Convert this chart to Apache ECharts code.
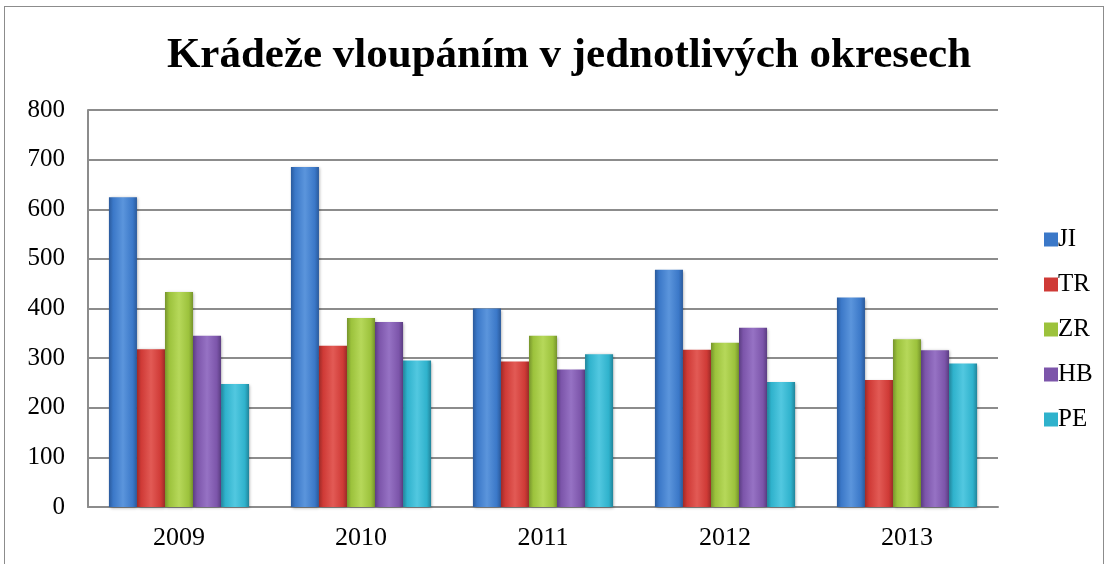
<!DOCTYPE html>
<html>
<head>
<meta charset="utf-8">
<script src="https://cdn.jsdelivr.net/npm/echarts@6/dist/echarts.min.js"></script>
<style>
  html, body { margin: 0; padding: 0; background: #fff; }
  #frame {
    position: absolute; left: 4px; top: 6px; width: 1100px; height: 570px;
    border: 1px solid #8c8c8c; box-sizing: border-box;
  }
  #chart { position: absolute; left: 0; top: 0; width: 1108px; height: 564px; }
</style>
</head>
<body>
<div id="frame"></div>
<div id="chart"></div>
<script>
const years = ["2009", "2010", "2011", "2012", "2013"];
const districts = ["JI", "TR", "ZR", "HB", "PE"];
const valuesJI = [624, 685, 400, 478, 422];
const valuesTR = [318, 325, 293, 317, 256];
const valuesZR = [433, 381, 345, 331, 338];
const valuesHB = [345, 373, 277, 361, 316];
const valuesPE = [248, 295, 308, 252, 289];
const yTicks = [0, 100, 200, 300, 400, 500, 600, 700, 800];

const seriesValues = [valuesJI, valuesTR, valuesZR, valuesHB, valuesPE];
// base, light, dark per district
const palette = [
  ["#3b78c8", "#5b95dc", "#2a5a9c"],
  ["#cf3a36", "#e25a55", "#9e2a27"],
  ["#9cc23c", "#b6d85a", "#76942c"],
  ["#7c55aa", "#9672c4", "#5b3d82"],
  ["#2fb2cc", "#52c8e0", "#21849a"],
];

function bevel(c) {
  return new echarts.graphic.LinearGradient(0, 0, 1, 0, [
    { offset: 0, color: c[2] },
    { offset: 0.15, color: c[0] },
    { offset: 0.5, color: c[1] },
    { offset: 0.85, color: c[0] },
    { offset: 1, color: c[2] },
  ]);
}

const chart = echarts.init(document.getElementById("chart"));

const option = {
  animation: false,
  title: {
    text: "Krádeže vloupáním v jednotlivých okresech",
    left: 564,
    top: 29,
    textAlign: "center",
    textStyle: {
      fontFamily: "Liberation Serif",
      fontWeight: "bold",
      fontSize: 43,
      color: "#000",
    },
  },
  legend: {
    data: districts.map((name, i) => ({
      name: name,
      itemStyle: { color: palette[i][0] },
    })),
    orient: "vertical",
    left: 1039,
    top: 222,
    itemWidth: 14,
    itemHeight: 14,
    itemGap: 20,
    icon: "rect",
    textStyle: {
      fontFamily: "Liberation Serif",
      fontSize: 25,
      color: "#000",
      padding: [0, 0, 0, -5],
    },
  },
  grid: {
    left: 88,
    right: 110,
    top: 110,
    bottom: 57,
  },
  xAxis: {
    type: "category",
    data: years,
    axisLine: { lineStyle: { color: "#8c8c8c", width: 2 } },
    axisTick: { show: false },
    axisLabel: {
      fontFamily: "Liberation Serif",
      fontSize: 26,
      color: "#000",
      margin: 18,
    },
  },
  yAxis: {
    type: "value",
    min: yTicks[0],
    max: yTicks[yTicks.length - 1],
    interval: 100,
    axisLine: { show: true, lineStyle: { color: "#8c8c8c", width: 2 } },
    axisTick: { show: false },
    splitLine: { lineStyle: { color: "#8c8c8c", width: 2 } },
    axisLabel: {
      fontFamily: "Liberation Serif",
      fontSize: 25,
      color: "#000",
      margin: 23,
    },
  },
  series: districts.map((name, i) => ({
    name: name,
    type: "bar",
    data: seriesValues[i],
    barGap: "0%",
    barCategoryGap: "23%",
    itemStyle: {
      color: bevel(palette[i]),
      shadowColor: "rgba(0,0,0,0.35)",
      shadowBlur: 3,
      shadowOffsetX: 1,
      shadowOffsetY: 1,
    },
  })),
};

chart.setOption(option);
</script>
</body>
</html>
